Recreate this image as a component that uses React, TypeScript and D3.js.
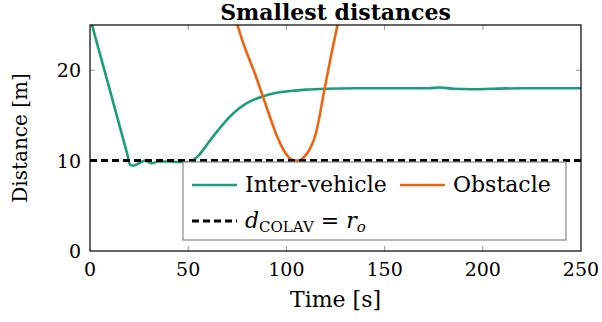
import React from "react";
import * as d3 from "d3";

// Time [s] / distance [m] samples
const interTime = [0, 10, 19, 20.5, 22, 25, 28, 31.5, 35, 40, 45, 50, 52, 55, 58, 61, 65, 70, 76, 82, 88, 95, 102, 110, 120, 135, 150, 165, 172, 178, 185, 195, 205, 220, 235, 250];
const interDist = [25.8, 17.9, 10.7, 9.5, 9.45, 9.7, 10.0, 9.7, 9.9, 9.9, 9.85, 9.85, 10.0, 10.5, 11.3, 12.2, 13.3, 14.6, 15.8, 16.6, 17.1, 17.5, 17.7, 17.85, 17.95, 18.0, 18.0, 18.0, 18.0, 18.08, 17.95, 17.9, 17.95, 18.0, 18.0, 18.0];

const obsTime = [74, 78, 81.5, 84, 88, 92, 95, 98.5, 101, 104, 106, 109, 112, 115, 119.4, 122, 127];
const obsDist = [25.8, 23, 21, 19.6, 17.1, 14.6, 12.8, 11.2, 10.4, 10.0, 10.0, 10.4, 11.3, 13, 17.9, 20.8, 26];

const colavDist = 10;
const xTicks = [0, 50, 100, 150, 200, 250];
const yTicks = [0, 10, 20];

const W = 602;
const H = 322;
const margin = { top: 25, right: 21, bottom: 71, left: 90 };
const font = "'DejaVu Serif', serif";

export default function App() {
  const x = d3.scaleLinear().domain([0, 250]).range([margin.left, W - margin.right]);
  const y = d3.scaleLinear().domain([0, 25]).range([H - margin.bottom, margin.top]);

  const line = d3
    .line<[number, number]>()
    .x((d) => x(d[0]))
    .y((d) => y(d[1]))
    .curve(d3.curveMonotoneX);

  const inter = interTime.map((t, i) => [t, interDist[i]] as [number, number]);
  const obs = obsTime.map((t, i) => [t, obsDist[i]] as [number, number]);

  const x0 = x(0), x1 = x(250), y0 = y(0), y1 = y(25);

  return (
    <svg width={W} height={H} style={{ position: "absolute", left: 0, top: 0, fontFamily: font }}>
      <defs>
        <clipPath id="plot">
          <rect x={x0} y={y1} width={x1 - x0} height={y0 - y1} />
        </clipPath>
      </defs>
      <rect width={W} height={H} fill="white" />

      {/* ticks, inside the frame */}
      {xTicks.slice(1, -1).map((t) => (
        <g key={"xt" + t} stroke="#999" strokeWidth={1}>
          <line x1={x(t)} x2={x(t)} y1={y0} y2={y0 - 5} />
          <line x1={x(t)} x2={x(t)} y1={y1} y2={y1 + 5} />
        </g>
      ))}
      {yTicks.slice(1).map((t) => (
        <g key={"yt" + t} stroke="#999" strokeWidth={1}>
          <line x1={x0} x2={x0 + 5} y1={y(t)} y2={y(t)} />
          <line x1={x1} x2={x1 - 5} y1={y(t)} y2={y(t)} />
        </g>
      ))}

      <g clipPath="url(#plot)" fill="none" strokeWidth={2.6}>
        <path d={line(inter) || ""} stroke="#1b9e77" />
        <path d={line(obs) || ""} stroke="#ec6510" />
      </g>
      <line x1={x0} x2={x1} y1={y(colavDist)} y2={y(colavDist)} stroke="black" strokeWidth={3} strokeDasharray="7,4" />

      <rect x={x0} y={y1} width={x1 - x0} height={y0 - y1} fill="none" stroke="black" strokeWidth={1.2} />

      {/* legend */}
      <g>
        <rect x={183} y={162} width={383} height={78} fill="white" stroke="#888" strokeWidth={1.2} />
        <line x1={192} x2={237} y1={185} y2={185} stroke="#1b9e77" strokeWidth={2.6} />
        <text x={245} y={192} fontSize={22}>Inter-vehicle</text>
        <line x1={400} x2={445} y1={185} y2={185} stroke="#ec6510" strokeWidth={2.6} />
        <text x={453} y={192} fontSize={22}>Obstacle</text>
        <line x1={192} x2={237} y1={221} y2={221} stroke="black" strokeWidth={3} strokeDasharray="7,4" />
        <text x={245} y={228} fontSize={22}>
          <tspan fontStyle="italic">d</tspan>
          <tspan fontSize={15} dy={4}>COLAV</tspan>
          <tspan dy={-4}> = </tspan>
          <tspan fontStyle="italic">r</tspan>
          <tspan fontSize={15} fontStyle="italic" dy={4}>o</tspan>
        </text>
      </g>

      {/* tick labels */}
      {xTicks.map((t) => (
        <text key={"xl" + t} x={x(t)} y={y0 + 25} textAnchor="middle" fontSize={19}>{t}</text>
      ))}
      {yTicks.map((t) => (
        <text key={"yl" + t} x={x0 - 9} y={y(t) + 7} textAnchor="end" fontSize={19}>{t}</text>
      ))}

      <text x={(x0 + x1) / 2} y={20} textAnchor="middle" fontSize={22} fontWeight="bold">Smallest distances</text>
      <text x={(x0 + x1) / 2} y={307} textAnchor="middle" fontSize={22}>Time [s]</text>
      <text transform={`translate(27,${(y0 + y1) / 2}) rotate(-90)`} textAnchor="middle" fontSize={20}>Distance [m]</text>
    </svg>
  );
}
